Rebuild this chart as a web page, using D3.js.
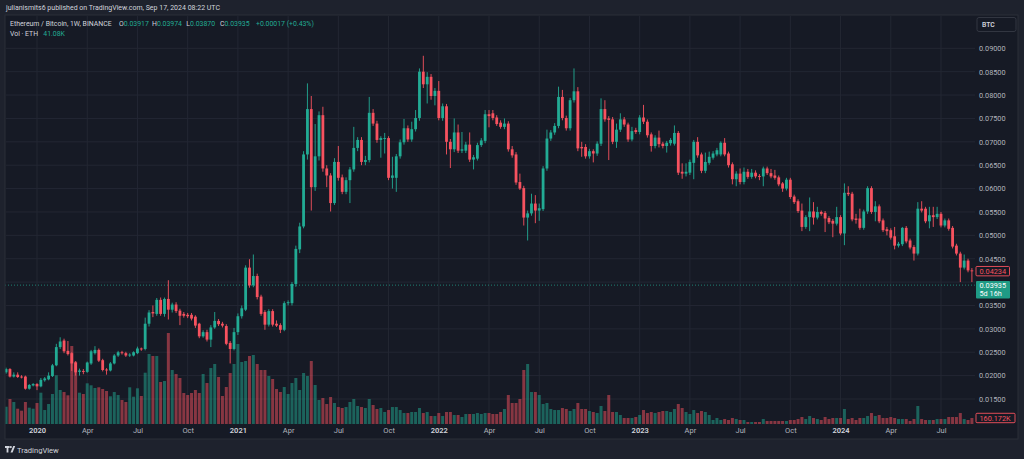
<!DOCTYPE html>
<html><head><meta charset="utf-8">
<script src="https://cdn.jsdelivr.net/npm/d3@7"></script>
<style>
html,body{margin:0;padding:0;background:#1e222d;}
svg{display:block;font-family:Roboto,"Noto Sans",sans-serif;}
</style></head><body>
<svg id="c" width="1024" height="459"></svg>
<script>
// ---------- DATA (weekly ETH/BTC, Binance) : [open, high, low, close] ----------
const firstWeek = "2019-11-11", endWeek = "2024-09-02"; // weekly candles, Mondays
const candles2019 = [
[0.0207,0.0217,0.0204,0.0214],[0.0214,0.0216,0.0196,0.0198],[0.0198,0.0207,0.0196,0.0202],[0.0202,0.0207,0.0195,0.0197],
[0.0198,0.0201,0.0194,0.0196],[0.0198,0.0200,0.0170,0.0172],[0.0172,0.0182,0.0170,0.0180],[0.0179,0.0184,0.0177,0.0182]];
const candles2020 = [
[0.0182,0.0184,0.0169,0.0177],[0.0177,0.0195,0.0175,0.0191],[0.0190,0.0197,0.0187,0.0194],[0.0192,0.0207,0.0190,0.0200],
[0.0199,0.0225,0.0197,0.0222],[0.0222,0.0268,0.0220,0.0261],[0.0261,0.0282,0.0257,0.0273],[0.0275,0.0279,0.0248,0.0252],
[0.0253,0.0274,0.0243,0.0246],[0.0248,0.0250,0.0210,0.0226],[0.0228,0.0231,0.0200,0.0207],[0.0208,0.0215,0.0200,0.0211],
[0.0210,0.0214,0.0203,0.0208],[0.0208,0.0230,0.0206,0.0228],[0.0226,0.0255,0.0223,0.0252],[0.0248,0.0263,0.0245,0.0255],
[0.0255,0.0258,0.0229,0.0232],[0.0233,0.0236,0.0209,0.0212],[0.0213,0.0216,0.0202,0.0212],[0.0211,0.0229,0.0209,0.0226],
[0.0226,0.0246,0.0224,0.0243],[0.0243,0.0253,0.0240,0.0250],[0.0250,0.0253,0.0245,0.0248],[0.0248,0.0251,0.0240,0.0243],
[0.0243,0.0248,0.0240,0.0245],[0.0243,0.0252,0.0241,0.0250],[0.0248,0.0262,0.0246,0.0258],[0.0258,0.0260,0.0253,0.0256],
[0.0257,0.0324,0.0254,0.0311],[0.0311,0.0340,0.0305,0.0335],[0.0336,0.0350,0.0325,0.0333],[0.0332,0.0366,0.0328,0.0362],
[0.0362,0.0367,0.0328,0.0332],[0.0332,0.0367,0.0326,0.0364],[0.0364,0.0404,0.0320,0.0341],[0.0341,0.0356,0.0335,0.0352],
[0.0352,0.0357,0.0334,0.0338],[0.0339,0.0343,0.0308,0.0328],[0.0332,0.0336,0.0324,0.0328],[0.0330,0.0334,0.0323,0.0327],
[0.0330,0.0334,0.0318,0.0322],[0.0326,0.0329,0.0302,0.0307],[0.0311,0.0313,0.0280,0.0284],[0.0284,0.0297,0.0281,0.0293],
[0.0293,0.0298,0.0273,0.0277],[0.0277,0.0308,0.0261,0.0303],[0.0303,0.0336,0.0300,0.0317],[0.0317,0.0321,0.0306,0.0310],
[0.0311,0.0315,0.0303,0.0307],[0.0306,0.0310,0.0265,0.0268],[0.0270,0.0274,0.0226,0.0257],[0.0257,0.0302,0.0254,0.0293]];
const candles2021 = [
[0.0293,0.0333,0.0287,0.0327],[0.0327,0.0350,0.0322,0.0344],[0.0341,0.0436,0.0338,0.0431],[0.0431,0.0449,0.0388,0.0393],
[0.0393,0.0459,0.0389,0.0413],[0.0413,0.0418,0.0363,0.0368],[0.0369,0.0373,0.0328,0.0332],[0.0336,0.0340,0.0298,0.0309],
[0.0309,0.0342,0.0305,0.0338],[0.0338,0.0342,0.0305,0.0309],[0.0311,0.0318,0.0304,0.0307],[0.0308,0.0312,0.0291,0.0298],
[0.0298,0.0359,0.0295,0.0355],[0.0355,0.0361,0.0350,0.0357],[0.0355,0.0400,0.0350,0.0396],[0.0396,0.0478,0.0390,0.0471],
[0.0470,0.0527,0.0462,0.0519],[0.0519,0.0680,0.0515,0.0673],[0.0673,0.0825,0.0662,0.0770],[0.0770,0.0798,0.0553,0.0603],
[0.0603,0.0738,0.0595,0.0669],[0.0669,0.0765,0.0660,0.0757],[0.0757,0.0775,0.0636,0.0643],[0.0643,0.0650,0.0603,0.0628],
[0.0628,0.0633,0.0551,0.0569],[0.0569,0.0665,0.0565,0.0657],[0.0657,0.0691,0.0617,0.0623],[0.0624,0.0630,0.0588,0.0593],
[0.0593,0.0624,0.0588,0.0618],[0.0618,0.0646,0.0569,0.0641],[0.0641,0.0732,0.0636,0.0687],[0.0687,0.0710,0.0680,0.0704],
[0.0704,0.0710,0.0650,0.0657],[0.0657,0.0670,0.0650,0.0661],[0.0661,0.0796,0.0656,0.0762],[0.0762,0.0770,0.0734,0.0739],
[0.0739,0.0745,0.0698,0.0704],[0.0704,0.0712,0.0666,0.0708],[0.0706,0.0719,0.0675,0.0708],[0.0708,0.0712,0.0618,0.0623],
[0.0623,0.0668,0.0600,0.0628],[0.0623,0.0674,0.0593,0.0669],[0.0669,0.0705,0.0664,0.0699],[0.0699,0.0749,0.0694,0.0729],
[0.0729,0.0735,0.0700,0.0705],[0.0705,0.0743,0.0700,0.0727],[0.0727,0.0768,0.0722,0.0751],[0.0751,0.0857,0.0745,0.0850],
[0.0850,0.0884,0.0815,0.0823],[0.0823,0.0849,0.0782,0.0839],[0.0839,0.0845,0.0790,0.0798],[0.0798,0.0815,0.0778,0.0809]];
const candles2022 = [
[0.0809,0.0830,0.0746,0.0751],[0.0751,0.0782,0.0745,0.0776],[0.0776,0.0781,0.0673,0.0700],[0.0700,0.0706,0.0644,0.0684],
[0.0684,0.0750,0.0678,0.0720],[0.0720,0.0737,0.0676,0.0681],[0.0681,0.0721,0.0676,0.0684],[0.0681,0.0700,0.0676,0.0694],
[0.0694,0.0720,0.0657,0.0662],[0.0662,0.0672,0.0641,0.0667],[0.0664,0.0698,0.0660,0.0693],[0.0693,0.0708,0.0689,0.0703],
[0.0702,0.0768,0.0697,0.0759],[0.0759,0.0768,0.0731,0.0755],[0.0761,0.0768,0.0746,0.0751],[0.0752,0.0757,0.0734,0.0738],
[0.0741,0.0746,0.0728,0.0732],[0.0732,0.0750,0.0727,0.0739],[0.0739,0.0744,0.0679,0.0684],[0.0684,0.0691,0.0666,0.0671],
[0.0673,0.0678,0.0608,0.0613],[0.0614,0.0632,0.0597,0.0600],[0.0601,0.0606,0.0521,0.0538],[0.0538,0.0553,0.0489,0.0547],
[0.0547,0.0589,0.0542,0.0568],[0.0568,0.0586,0.0526,0.0553],[0.0553,0.0568,0.0531,0.0558],[0.0556,0.0648,0.0552,0.0643],
[0.0643,0.0726,0.0638,0.0707],[0.0707,0.0725,0.0702,0.0720],[0.0720,0.0740,0.0715,0.0734],[0.0734,0.0818,0.0729,0.0796],
[0.0796,0.0811,0.0746,0.0751],[0.0751,0.0756,0.0724,0.0729],[0.0729,0.0794,0.0724,0.0789],[0.0789,0.0857,0.0784,0.0808],
[0.0808,0.0817,0.0680,0.0686],[0.0689,0.0700,0.0668,0.0686],[0.0689,0.0695,0.0664,0.0669],[0.0669,0.0685,0.0664,0.0680],
[0.0680,0.0684,0.0656,0.0675],[0.0675,0.0701,0.0670,0.0696],[0.0696,0.0793,0.0691,0.0770],[0.0770,0.0789,0.0743,0.0748],
[0.0750,0.0755,0.0661,0.0747],[0.0748,0.0753,0.0695,0.0700],[0.0700,0.0739,0.0687,0.0726],[0.0726,0.0761,0.0721,0.0748],
[0.0748,0.0753,0.0732,0.0737],[0.0737,0.0741,0.0700,0.0705],[0.0705,0.0732,0.0701,0.0723],[0.0725,0.0730,0.0717,0.0721]];
const candles2023 = [
[0.0721,0.0757,0.0716,0.0752],[0.0752,0.0779,0.0738,0.0743],[0.0743,0.0748,0.0709,0.0714],[0.0716,0.0720,0.0679,0.0691],
[0.0691,0.0714,0.0686,0.0709],[0.0709,0.0724,0.0688,0.0695],[0.0696,0.0700,0.0686,0.0691],[0.0691,0.0702,0.0677,0.0698],
[0.0697,0.0708,0.0692,0.0704],[0.0696,0.0735,0.0692,0.0719],[0.0719,0.0723,0.0629,0.0634],[0.0636,0.0654,0.0621,0.0632],
[0.0632,0.0654,0.0626,0.0636],[0.0634,0.0662,0.0629,0.0657],[0.0655,0.0704,0.0620,0.0700],[0.0700,0.0710,0.0666,0.0671],
[0.0673,0.0677,0.0633,0.0638],[0.0638,0.0677,0.0633,0.0657],[0.0655,0.0679,0.0651,0.0668],[0.0666,0.0680,0.0662,0.0675],
[0.0673,0.0687,0.0669,0.0682],[0.0673,0.0701,0.0669,0.0698],[0.0698,0.0708,0.0669,0.0673],[0.0675,0.0679,0.0645,0.0650],
[0.0652,0.0656,0.0609,0.0620],[0.0620,0.0637,0.0605,0.0632],[0.0632,0.0643,0.0609,0.0614],[0.0614,0.0645,0.0609,0.0636],
[0.0636,0.0642,0.0621,0.0625],[0.0625,0.0642,0.0621,0.0634],[0.0634,0.0639,0.0622,0.0626],[0.0627,0.0631,0.0618,0.0625],
[0.0626,0.0647,0.0605,0.0643],[0.0643,0.0647,0.0629,0.0633],[0.0633,0.0642,0.0622,0.0626],[0.0628,0.0640,0.0619,0.0623],
[0.0624,0.0628,0.0605,0.0609],[0.0611,0.0614,0.0593,0.0600],[0.0600,0.0623,0.0596,0.0619],[0.0619,0.0623,0.0578,0.0582],
[0.0583,0.0587,0.0567,0.0571],[0.0573,0.0577,0.0548,0.0552],[0.0553,0.0568,0.0509,0.0518],[0.0518,0.0543,0.0514,0.0539],
[0.0539,0.0581,0.0509,0.0551],[0.0551,0.0571,0.0523,0.0538],[0.0538,0.0561,0.0534,0.0550],[0.0550,0.0553,0.0542,0.0546],
[0.0548,0.0552,0.0507,0.0536],[0.0537,0.0541,0.0524,0.0528],[0.0531,0.0535,0.0496,0.0525],[0.0525,0.0561,0.0521,0.0539]];
const candles2024 = [
[0.0539,0.0543,0.0500,0.0504],[0.0504,0.0611,0.0479,0.0591],[0.0591,0.0605,0.0584,0.0588],[0.0589,0.0593,0.0530,0.0534],
[0.0536,0.0546,0.0525,0.0533],[0.0536,0.0557,0.0512,0.0516],[0.0516,0.0555,0.0512,0.0551],[0.0551,0.0605,0.0546,0.0601],
[0.0601,0.0605,0.0546,0.0550],[0.0550,0.0573,0.0530,0.0562],[0.0562,0.0566,0.0526,0.0530],[0.0532,0.0536,0.0507,0.0511],
[0.0513,0.0518,0.0500,0.0509],[0.0511,0.0515,0.0491,0.0495],[0.0498,0.0518,0.0470,0.0478],[0.0478,0.0486,0.0474,0.0482],
[0.0481,0.0518,0.0477,0.0516],[0.0516,0.0520,0.0483,0.0487],[0.0489,0.0493,0.0470,0.0474],[0.0475,0.0479,0.0446,0.0461],
[0.0461,0.0571,0.0457,0.0557],[0.0557,0.0573,0.0549,0.0553],[0.0557,0.0561,0.0526,0.0530],[0.0530,0.0561,0.0515,0.0543],
[0.0543,0.0561,0.0518,0.0539],[0.0539,0.0561,0.0535,0.0546],[0.0546,0.0550,0.0517,0.0521],[0.0521,0.0536,0.0517,0.0532],
[0.0532,0.0536,0.0510,0.0514],[0.0516,0.0520,0.0472,0.0476],[0.0478,0.0482,0.0457,0.0461],[0.0461,0.0465,0.0400,0.0431],
[0.0431,0.0459,0.0427,0.0446],[0.0446,0.0450,0.0421,0.0425],[0.0425,0.0430,0.0400,0.04234]];
// weekly volume, thousand ETH
const vol2019 = [461,667,587,408,355,587,435,408];
const vol2020 = [560,835,373,533,800,1299,907,853,765,2080,1661,835,800,1085,1032,960,979,933,880,739,853,773,640,587,979,728,952,747,1368,1867,1813,1813,1120,1147,2427,1440,1333,1227,827,773,827,907,827,1333,1093,1493,1600,1253,747,987,1360,1600];
const vol2021 = [2133,1653,1680,1813,1840,1600,1440,1440,1280,1200,933,853,987,800,1093,1227,907,1360,1280,1680,1040,640,693,533,720,560,453,427,453,587,667,480,453,427,667,507,400,427,320,373,453,453,373,293,293,320,320,427,293,320,213,213];
const vol2022 = [293,213,320,320,240,240,187,267,267,267,293,267,293,293,267,267,320,400,773,560,560,667,1440,1600,853,853,773,533,560,400,373,373,427,400,347,400,560,400,400,347,320,293,480,347,773,320,320,240,160,160,160,187];
const vol2023 = [240,373,293,320,293,320,347,347,320,400,533,427,320,267,373,293,347,320,240,107,160,107,133,107,160,133,107,107,53,53,53,53,133,80,80,80,80,80,80,107,107,133,187,133,213,160,133,107,187,133,160,160];
const vol2024 = [160,400,133,160,107,160,160,213,293,213,240,160,160,187,160,133,133,133,80,133,480,133,107,107,107,133,133,133,187,187,187,293,133,107,160.172];
// axis ticks
const priceTicks = [0.015,0.020,0.025,0.030,0.035,0.040,0.045,0.050,0.055,0.060,0.065,0.070,0.075,0.080,0.085,0.090];
const tickDates = ["2020-01-06","2020-04-06","2020-07-06","2020-10-05","2021-01-04","2021-04-05","2021-07-05","2021-10-04","2022-01-03","2022-04-04","2022-07-04","2022-10-03","2023-01-02","2023-04-03","2023-07-03","2023-10-02","2024-01-01","2024-04-01","2024-07-01"];
const tickLabels = ["2020","Apr","Jul","Oct","2021","Apr","Jul","Oct","2022","Apr","Jul","Oct","2023","Apr","Jul","Oct","2024","Apr","Jul"];
// legend / live values
const legendOHLC = {O:"0.03917",H:"0.03974",L:"0.03870",C:"0.03935"};
const legendChange = "+0.00017 (+0.43%)";
const legendVol = "41.08K";
const currentPrice = 0.03935, countdown = "5d 16h";

// ---------- BUILD ----------
const weeks = d3.utcMonday.range(new Date(firstWeek+"T00:00:00Z"), new Date(endWeek+"T00:00:00Z"));
const ohlc = [].concat(candles2019,candles2020,candles2021,candles2022,candles2023,candles2024);
const vols = [].concat(vol2019,vol2020,vol2021,vol2022,vol2023,vol2024);
const data = weeks.map((d,i)=>({date:d,o:ohlc[i][0],h:ohlc[i][1],l:ohlc[i][2],c:ohlc[i][3],v:vols[i]}));

const UP="#22ab94", DOWN="#f7525f", BG="#161a25", GRID="#232733", TXT="#b2b5be", TXT2="#d1d4dc";
const paneL=5, paneR=1018, paneT=15, paneB=439, plotR=975, volBase=424;

const svg = d3.select("#c");
svg.append("rect").attr("width",1024).attr("height",459).attr("fill","#1e222d");
svg.append("rect").attr("x",paneL).attr("y",paneT).attr("width",paneR-paneL).attr("height",paneB-paneT)
   .attr("fill",BG).attr("stroke","#2a2e39").attr("stroke-width",1);

const x = d3.scaleUtc().domain([weeks[0], weeks[weeks.length-1]]).range([6.1, 971.9]);
const y = d3.scaleLinear().domain([0.015,0.09]).range([399,48.3]);
const yv = d3.scaleLinear().domain([0,1000]).range([volBase, volBase-37.5]);

svg.append("defs").append("clipPath").attr("id","plot").append("rect")
   .attr("x",paneL+0.5).attr("y",paneT+0.5).attr("width",plotR-paneL-0.5).attr("height",volBase-paneT);

// grid
const g = svg.append("g");
g.selectAll(".hg").data(priceTicks).join("line").attr("x1",paneL+1).attr("x2",plotR)
  .attr("y1",d=>y(d)).attr("y2",d=>y(d)).attr("stroke",GRID).attr("stroke-width",1);
g.selectAll(".vg").data(tickDates).join("line")
  .attr("x1",d=>x(new Date(d+"T00:00:00Z"))).attr("x2",d=>x(new Date(d+"T00:00:00Z")))
  .attr("y1",paneT+1).attr("y2",volBase).attr("stroke",GRID).attr("stroke-width",1);

const plot = svg.append("g").attr("clip-path","url(#plot)");
// volume
plot.selectAll(".vb").data(data).join("rect")
  .attr("x",d=>x(d.date)-1.5).attr("width",3)
  .attr("y",d=>yv(d.v)).attr("height",d=>volBase-yv(d.v))
  .attr("fill",d=>d.c>=d.o?UP:DOWN).attr("opacity",0.5);
// current price line
plot.append("line").attr("x1",paneL).attr("x2",plotR).attr("y1",y(currentPrice)).attr("y2",y(currentPrice))
  .attr("stroke",UP).attr("stroke-opacity",0.7).attr("stroke-dasharray","1,2").attr("stroke-width",1);
// candles
const cg = plot.selectAll(".cd").data(data).join("g");
cg.append("line").attr("x1",d=>x(d.date)).attr("x2",d=>x(d.date))
  .attr("y1",d=>y(d.h)).attr("y2",d=>y(d.l)).attr("stroke",d=>d.c>=d.o?UP:DOWN).attr("stroke-width",0.9);
cg.append("rect").attr("x",d=>x(d.date)-1.4).attr("width",2.8)
  .attr("y",d=>y(Math.max(d.o,d.c))).attr("height",d=>Math.max(0.9,Math.abs(y(d.o)-y(d.c))))
  .attr("fill",d=>d.c>=d.o?UP:DOWN);

// price axis (labels hidden where the live-price box covers them, as on TradingView)
const liveTop = 281, liveBot = 298.5;
const visibleTicks = priceTicks.filter(t => y(t) < liveTop-3 || y(t) > liveBot+3);
const ax = svg.append("g").attr("transform",`translate(979,0)`)
  .call(d3.axisRight(y).tickValues(visibleTicks).tickFormat(d3.format(".5f")).tickSize(0).tickPadding(0));
ax.select(".domain").remove();
ax.selectAll("text").attr("fill",TXT).attr("font-size","7.3px").attr("font-family","Roboto,sans-serif");

// time axis
const tx = svg.append("g").attr("transform",`translate(0,428)`)
  .call(d3.axisBottom(x).tickValues(tickDates.map(d=>new Date(d+"T00:00:00Z"))).tickFormat((d,i)=>tickLabels[i]).tickSize(0).tickPadding(0));
tx.select(".domain").remove();
tx.selectAll("text").attr("fill",(d,i)=>/^\d/.test(tickLabels[i])?TXT2:TXT)
  .attr("font-weight",(d,i)=>/^\d/.test(tickLabels[i])?600:400)
  .attr("font-size","7.5px").attr("font-family","Roboto,sans-serif").attr("dy","0.6em");

// price labels on axis
const last = data[data.length-1];
function boxLabel(yc, text, color, w){
  svg.append("rect").attr("x",976).attr("y",yc-4.7).attr("width",w).attr("height",9.4).attr("rx",1)
     .attr("fill",BG).attr("stroke",color).attr("stroke-width",0.9);
  svg.append("text").attr("x",979.5).attr("y",yc).attr("dy","0.35em").attr("fill",color)
     .attr("font-size","7.3px").text(text);
}
boxLabel(y(last.c), d3.format(".5f")(last.c), DOWN, 33.5);
svg.append("rect").attr("x",976).attr("y",liveTop).attr("width",34).attr("height",liveBot-liveTop).attr("rx",1).attr("fill","#1f9b85");
svg.append("text").attr("x",979.5).attr("y",y(currentPrice)+0.6).attr("dy","0.35em").attr("fill","#ffffff").attr("font-size","7.3px").text(d3.format(".5f")(currentPrice));
svg.append("text").attr("x",979.5).attr("y",293.8).attr("dy","0.35em").attr("fill","#ffffff").attr("font-size","7.3px").text(countdown);
boxLabel(yv(last.v), d3.format(".3f")(last.v)+"K", DOWN, 39);

// currency button
svg.append("rect").attr("x",977).attr("y",17.5).attr("width",39).attr("height",14).attr("rx",2)
   .attr("fill",BG).attr("stroke","#363a45").attr("stroke-width",0.9);
svg.append("text").attr("x",982).attr("y",24.6).attr("dy","0.35em").attr("fill",TXT2).attr("font-size","6.8px").attr("font-weight",600).text("BTC");

// header
svg.append("text").attr("x",6).attr("y",10.2).attr("fill",TXT2).attr("font-size","7px")
   .text("julianismits6 published on TradingView.com, Sep 17, 2024 08:22 UTC");
// legend
const lg = svg.append("text").attr("x",10).attr("y",26.3).attr("font-size","6.9px").attr("fill",TXT2);
lg.append("tspan").text("Ethereum / Bitcoin, 1W, BINANCE");
[["O",119],["H",152],["L",186.3],["C",220]].forEach(([k,px])=>{
  lg.append("tspan").attr("x",px).text(k);
  lg.append("tspan").attr("fill",UP).text(legendOHLC[k]);
});
lg.append("tspan").attr("x",256).attr("fill",UP).text(legendChange);
const lg2 = svg.append("text").attr("x",10).attr("y",35.8).attr("font-size","6.9px").attr("fill",TXT2);
lg2.append("tspan").text("Vol · ETH");
lg2.append("tspan").attr("x",43.3).attr("fill",UP).text(legendVol);

// footer logo
const logo = svg.append("g").attr("transform","translate(5,446)");
logo.append("rect").attr("x",0).attr("y",0).attr("width",4.6).attr("height",2).attr("fill",TXT2);
logo.append("rect").attr("x",1.6).attr("y",0).attr("width",1.8).attr("height",6.5).attr("fill",TXT2);
logo.append("circle").attr("cx",5.8).attr("cy",1.1).attr("r",1.1).attr("fill",TXT2);
logo.append("path").attr("d","M5.5,6.5 L8.2,0 L10.2,0 L7.6,6.5 Z").attr("fill",TXT2);
svg.append("text").attr("x",17).attr("y",452.5).attr("fill",TXT2).attr("font-size","7.6px").text("TradingView");
</script></body></html>
